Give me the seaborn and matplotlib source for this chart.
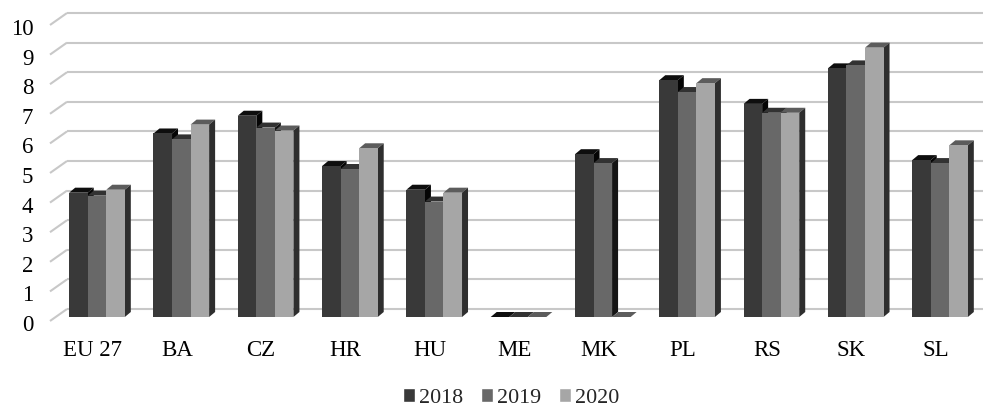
import matplotlib
matplotlib.use("Agg")
import matplotlib.pyplot as plt
import pandas as pd
import seaborn as sns
from matplotlib.patches import Polygon
from matplotlib.transforms import ScaledTranslation

# Donnees
countries = ["EU 27", "BA", "CZ", "HR", "HU", "ME", "MK", "PL", "RS", "SK", "SL"]
years = ["2018", "2019", "2020"]
v2018 = [4.2, 6.2, 6.8, 5.1, 4.3, 0, 5.5, 8.0, 7.2, 8.4, 5.3]
v2019 = [4.1, 6.0, 6.4, 5.0, 3.9, 0, 5.2, 7.6, 6.9, 8.5, 5.2]
v2020 = [4.3, 6.5, 6.3, 5.7, 4.2, 0, 0, 7.9, 6.9, 9.1, 5.8]
y_ticks = list(range(0, 11))

front_colors = ["#393939", "#686868", "#a6a6a6"]
top_colors = ["#0e0e0e", "#323232", "#5c5c5c"]
side_colors = ["#050505", "#141414", "#2e2e2e"]
grid_color = "#c8c8c8"

df = pd.DataFrame({
    "country": countries * 3,
    "year": [y for y in years for _ in countries],
    "value": v2018 + v2019 + v2020,
})

sns.set_theme(style="white")
plt.rcParams["font.family"] = ["Liberation Serif", "DejaVu Serif"]
FS = 16.5

W, H = 983, 409
fig = plt.figure(figsize=(W / 100, H / 100), dpi=100)
ax = fig.add_axes([50 / W, 92 / H, 933 / W, 296 / H])

sns.barplot(data=df, x="country", y="value", hue="year", palette=front_colors,
            width=0.66, saturation=1, errorbar=None, ax=ax)

xmin, xmax = -0.5575, 10.51
ax.set_xlim(xmin, xmax)
ax.set_ylim(0, 10)
dxp = (xmax - xmin) / 933  # unites data par pixel
dyp = 10 / 296

# faces 3D (dessus + cote) des barres
DX, DY = 6, 5
for h, cont in enumerate(ax.containers):
    for c, bar in enumerate(cont):
        x0, w, hgt = bar.get_x(), bar.get_width(), bar.get_height()
        k = c * 3 + h
        bar.set_zorder(3 + 0.01 * (2 * k + 1))
        bar.set_edgecolor("none")
        bar.set_clip_on(False)
        top = Polygon([(x0, hgt), (x0 + w, hgt), (x0 + w + DX * dxp, hgt + DY * dyp),
                       (x0 + DX * dxp, hgt + DY * dyp)],
                      closed=True, facecolor=top_colors[h], edgecolor="none",
                      zorder=3 + 0.01 * 2 * k, clip_on=False)
        side = Polygon([(x0 + w, 0), (x0 + w + DX * dxp, DY * dyp),
                        (x0 + w + DX * dxp, hgt + DY * dyp), (x0 + w, hgt)],
                       closed=True, facecolor=side_colors[h], edgecolor="none",
                       zorder=3 + 0.01 * 2 * k, clip_on=False)
        ax.add_patch(top)
        ax.add_patch(side)

# grille du mur du fond + diagonales
for v in y_ticks:
    ax.plot([xmin + 17 * dxp, xmax], [v + 8 * dyp, v + 8 * dyp], color=grid_color,
            lw=1.5, zorder=1, clip_on=False, solid_capstyle="butt")
    ax.plot([xmin, xmin + 17 * dxp], [v - 4 * dyp, v + 8 * dyp], color=grid_color,
            lw=1.5, zorder=1, clip_on=False, solid_capstyle="butt")

sns.despine(ax=ax, left=True, bottom=True)
ax.grid(False)
ax.set_xlabel("")
ax.set_ylabel("")
ax.set_yticks(y_ticks)
ax.tick_params(axis="y", length=0, pad=12, labelsize=FS, colors="black")
ax.tick_params(axis="x", length=0, pad=16.5, labelsize=FS, colors="black")
for lab in ax.get_yticklabels():
    lab.set_transform(lab.get_transform() + ScaledTranslation(0, -0.06, fig.dpi_scale_trans))
for lab in ax.get_xticklabels():
    lab.set_transform(lab.get_transform() + ScaledTranslation(-0.045, 0, fig.dpi_scale_trans))

# legende en bas
old = ax.get_legend()
handles = old.legend_handles
labels = [t.get_text() for t in old.get_texts()]
old.remove()
ax.legend(handles, labels, loc="center", bbox_to_anchor=(511 / W, 1 - 398 / H),
          bbox_transform=fig.transFigure, ncol=3, frameon=False,
          handlelength=0.55, handleheight=0.55, handletextpad=0.2,
          columnspacing=0.8, fontsize=15.8, borderaxespad=0)

plt.savefig("out.png", dpi=100)
plt.close()
